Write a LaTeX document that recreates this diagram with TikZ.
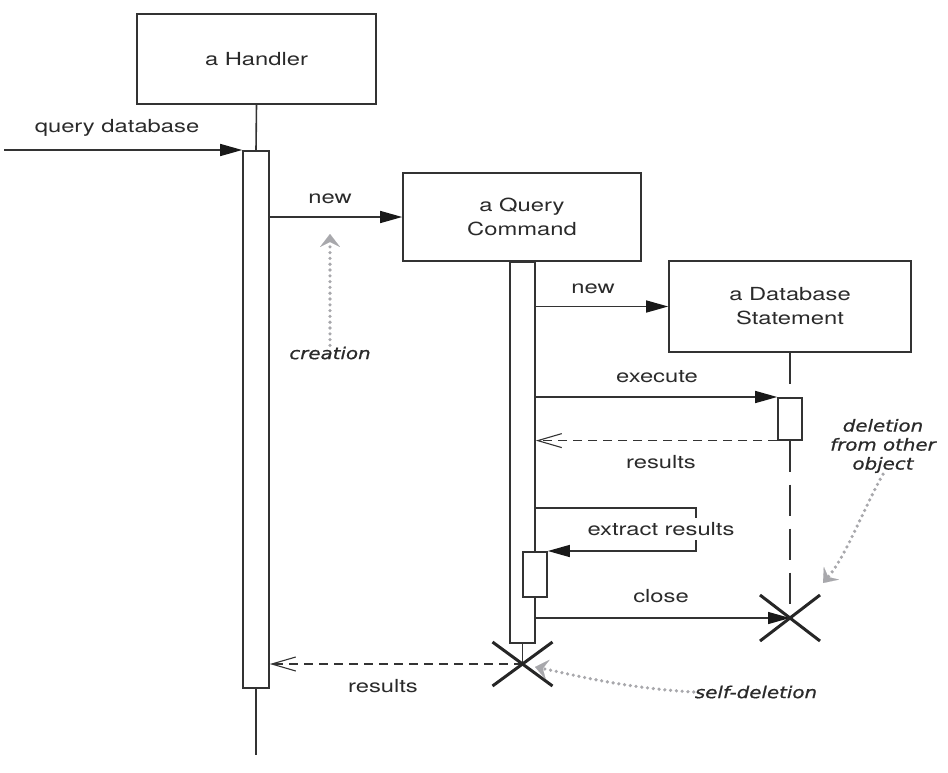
\documentclass[tikz,border=0pt]{standalone}
\usepackage{fontspec}
\setmainfont[FakeStretch=1.32]{TeX Gyre Heros}
\newfontfamily\handfont[FakeStretch=1.2,FakeBold=0.8]{DejaVu Sans}
\usetikzlibrary{arrows.meta,calc}
\definecolor{linec}{HTML}{333333}
\definecolor{txtc}{HTML}{2A2A2A}
\definecolor{notec}{HTML}{A8A8AC}
\begin{document}
\begin{tikzpicture}[x=1pt,y=-1pt,
  obj/.style={draw=linec, line width=1.6pt, inner sep=0pt, align=center, text=txtc,
    font=\fontsize{18}{24}\selectfont},
  bar/.style={draw=linec, fill=white, line width=1.6pt, inner sep=0pt, anchor=north},
  msg/.style={draw=linec, line width=1.4pt, -{Triangle[length=22pt,width=12pt,color=black!90]}},
  ret/.style={draw=linec, line width=1.4pt, dash pattern=on 9pt off 6pt,
    -{Straight Barb[length=24pt,width=14pt,line width=1.1pt]}},
  life/.style={draw=linec, line width=1.6pt},
  dlife/.style={draw=linec, line width=1.6pt, dash pattern=on 31pt off 13pt},
  lbl/.style={text=txtc, inner sep=1pt, font=\fontsize{18}{22}\selectfont},
  note/.style={text=txtc, align=center, inner sep=1pt,
    font=\handfont\itshape\fontsize{16.5}{19}\selectfont},
  noteline/.style={draw=notec, line width=3.6pt, line cap=round, dash pattern=on 0pt off 5.8pt,
    -{Stealth[length=13pt,width=20pt,inset=5pt,line width=0.1pt,color=notec,round=false]}},
  kill/.style={draw=black!85, line width=3pt}
]
\useasboundingbox (0,0) rectangle (948,772);

% objects
\node[obj, minimum width=239pt, minimum height=90pt] (handler) at (256.5,59) {a Handler};
\node[obj, minimum width=238pt, minimum height=88pt] (qc) at (522,217) {a Query\\Command};
\node[obj, minimum width=242pt, minimum height=91pt] (db) at (790,306.5) {a Database\\Statement};

% activation bars
\node[bar, minimum width=26pt, minimum height=537pt] (hbar) at (256,150) {};
\node[bar, minimum width=25pt, minimum height=381pt] (qbar) at (522.5,261) {};
\node[bar, minimum width=24pt, minimum height=45pt] (sbar) at (535,551) {};
\node[bar, minimum width=24pt, minimum height=42pt] (dbar) at (790,397) {};

% named points
\coordinate (start) at (4,150);
\coordinate (hend) at (256,755);
\coordinate (dbx) at (790,618);
\coordinate (selfx) at (522.5,664);
\coordinate (sc1) at (696,508);

% lifelines
\draw[life] (handler.south) -- (hbar.north);
\draw[life] (hbar.south) -- (hend);
\draw[life] (qbar.south) -- (selfx);
\draw[dlife] (db.south) -- (dbar.north);
\draw[dlife] (dbar.south) -- (dbx);

% messages
\draw[msg] (start) -- (hbar.north west);
\node[lbl] (l1) at (117,128) {query database};

\draw[msg] (hbar.east |- qc.west) -- (qc.west);
\node[lbl] (l2) at (330,199) {new};

\draw[msg] (qbar.east |- db.west) -- (db.west);
\node[lbl] (l3) at (593,289) {new};

\draw[msg] (qbar.east |- dbar.north west) -- (dbar.north west);
\node[lbl] (l4) at (657,377) {execute};

\draw[ret] (dbar.south west) -- (qbar.east |- dbar.south west);
\node[lbl] (l5) at (661,462) {results};

\draw[msg] (qbar.east |- sc1) -- (sc1) -- (sc1 |- sbar.north east) -- (sbar.north east);
\node[lbl, fill=white, inner sep=4pt] (l6) at (661,529) {extract results};

\draw[msg] (qbar.east |- dbx) -- (dbx);
\node[lbl] (l7) at (661,596) {close};

\draw[ret] (selfx) -- (hbar.east |- selfx);
\node[lbl] (l8) at (383,686) {results};

% deletion crosses
\draw[kill] ($(dbx)+(-30,-23)$) -- ($(dbx)+(30,23)$);
\draw[kill] ($(dbx)+(-30,23)$) -- ($(dbx)+(30,-23)$);
\draw[kill] ($(selfx)+(-30,-22)$) -- ($(selfx)+(30,22)$);
\draw[kill] ($(selfx)+(-30,22)$) -- ($(selfx)+(30,-22)$);

% notes
\node[note] (ncreate) at (330,353) {creation};
\coordinate (ctip) at (330,234);
\draw[noteline] (ncreate.north) -- (ctip);

\node[note] (ndel) at (883,446) {deletion\\from other\\object};
\coordinate (dtip) at (823,583);
\draw[noteline] (ndel.south) .. controls (862,512) and (846,556) .. (dtip);

\node[note] (nself) at (756,692) {self-deletion};
\coordinate (stip) at (535,667);
\draw[noteline] (nself.west) .. controls (622,688) and (570,674) .. (stip);
\end{tikzpicture}
\end{document}
